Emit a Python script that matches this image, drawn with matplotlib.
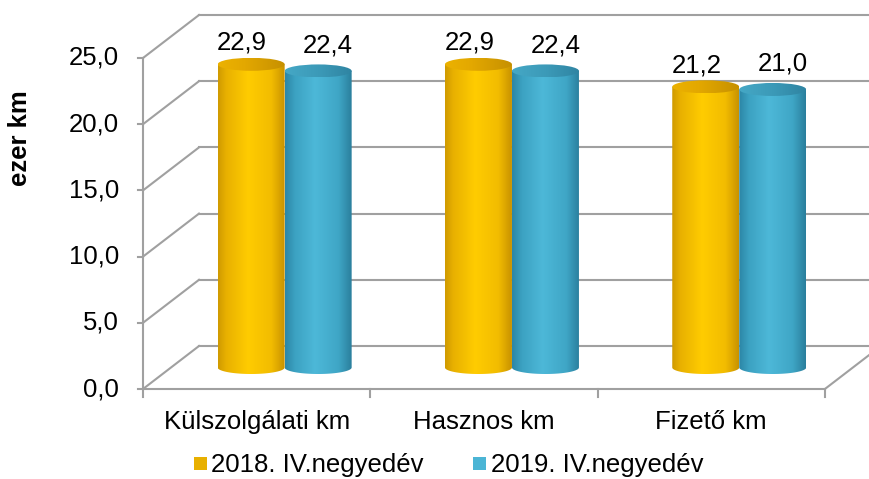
import numpy as np
import matplotlib
matplotlib.use("Agg")
import matplotlib.pyplot as plt
from matplotlib.patches import Polygon, Ellipse, Rectangle
from matplotlib.colors import to_rgb

# ---- data ----
categories = ["Külszolgálati km", "Hasznos km", "Fizető km"]
series_names = ["2018. IV.negyedév", "2019. IV.negyedév"]
values_2018 = [22.9, 22.9, 21.2]
values_2019 = [22.4, 22.4, 21.0]
value_labels_2018 = ["22,9", "22,9", "21,2"]
value_labels_2019 = ["22,4", "22,4", "21,0"]
y_ticks = [0, 5, 10, 15, 20, 25]
y_tick_labels = ["0,0", "5,0", "10,0", "15,0", "20,0", "25,0"]
y_label = "ezer km"

# ---- geometry / style ----
W, H = 869, 479
SX = 227.3      # px per category
SY = 13.24      # px per value unit
X0PX, Y0PX = 143, 389
DX = 56 / SX    # depth offset (category units)
DY = 43 / SY    # depth offset (value units)
CYL_W = 67 / SX
ELL_B = 6.5 / SY
FONT = "Liberation Sans"
FS = 18.5
GRID = "#A0A0A0"

fig = plt.figure(figsize=(W / 100, H / 100), dpi=100)
ax = fig.add_axes([0, 0, 1, 1])
ax.set_xlim(-0.5 - X0PX / SX, -0.5 + (W - X0PX) / SX)
ax.set_ylim(-(H - Y0PX) / SY, Y0PX / SY)
ax.axis("off")

lw = 1.5
# back wall gridlines and left wall diagonals
for v, lab in zip(y_ticks, y_tick_labels):
    ax.plot([-0.5 + DX, 2.5 + DX], [v + DY, v + DY], color=GRID, lw=lw, zorder=1)
    ax.plot([-0.5, -0.5 + DX], [v, v + DY], color=GRID, lw=lw, zorder=1)
    ax.plot([-0.5 - 5 / SX, -0.5], [v, v], color=GRID, lw=lw, zorder=1)
    ax.text(-0.5 - 24 / SX, v, lab, ha="right", va="center",
            fontsize=FS, family=FONT, color="#000000")
# front axis
ax.plot([-0.5, -0.5], [-8 / SY, 25], color=GRID, lw=lw, zorder=1)
# floor front line and ticks
ax.plot([-0.5, 2.5], [0, 0], color=GRID, lw=lw, zorder=1)
for b in [0.5, 1.5, 2.5]:
    ax.plot([b, b], [0, -8 / SY], color=GRID, lw=lw, zorder=1)
ax.plot([2.5, 2.5 + DX], [0, DY], color=GRID, lw=lw, zorder=1)


def grad(stops, n=256):
    pos = np.linspace(0, 1, n)
    ps = [s[0] for s in stops]
    cols = np.array([to_rgb(s[1]) for s in stops])
    arr = np.stack([np.interp(pos, ps, cols[:, k]) for k in range(3)], axis=-1)
    return arr[np.newaxis, :, :]


yellow_body = grad([(0, "#CF9A00"), (0.12, "#E8B000"), (0.45, "#FFCC00"), (0.8, "#F2BC00"), (1, "#C89200")])
yellow_top = grad([(0, "#ECB200"), (0.4, "#E3A800"), (1, "#C69000")])
blue_body = grad([(0, "#2C86A6"), (0.15, "#3CA2C2"), (0.45, "#4DB8D8"), (0.8, "#3FA6C6"), (1, "#2A7E9C")])
blue_top = grad([(0, "#45A8C6"), (0.5, "#3C9AB8"), (1, "#2F84A2")])

z = [5]


def cylinder(cx, val, body, top):
    y0 = 0.5 * DY
    y1 = val + 0.5 * DY
    a = CYL_W / 2
    t = np.linspace(np.pi, 2 * np.pi, 60)
    bottom = np.column_stack([cx + a * np.cos(t), y0 + ELL_B * np.sin(t)])
    verts = np.vstack([[cx - a, y1], bottom, [cx + a, y1]])
    poly = Polygon(verts, closed=True, facecolor="none", edgecolor="none")
    ax.add_patch(poly)
    im = ax.imshow(body, extent=[cx - a, cx + a, y0 - ELL_B, y1], aspect="auto",
                   interpolation="bilinear", zorder=z[0])
    im.set_clip_path(poly)
    ell = Ellipse((cx, y1), 2 * a, 2 * ELL_B, facecolor="none", edgecolor="none")
    ax.add_patch(ell)
    im2 = ax.imshow(top, extent=[cx - a, cx + a, y1 - ELL_B, y1 + ELL_B], aspect="auto",
                    interpolation="bilinear", zorder=z[0] + 1)
    im2.set_clip_path(ell)
    z[0] += 2
    return y1 + ELL_B


for i in range(len(categories)):
    base = i + 0.5 * DX
    cy = base - CYL_W / 2
    cb = base + CYL_W / 2
    ty = cylinder(cy, values_2018[i], yellow_body, yellow_top)
    ax.text(cy - 9 / SX, ty + 3 / SY, value_labels_2018[i], ha="center", va="bottom",
            fontsize=FS, family=FONT, zorder=50)
    tb = cylinder(cb, values_2019[i], blue_body, blue_top)
    ax.text(cb + 10 / SX, tb + 7 / SY, value_labels_2019[i], ha="center", va="bottom",
            fontsize=FS, family=FONT, zorder=50)
    ax.text(i, -33 / SY, categories[i], ha="center", va="center", fontsize=FS, family=FONT)

# y label
ax.text(-0.5 - 123 / SX, (Y0PX - 138) / SY, y_label, rotation=90, ha="center", va="center",
        fontsize=FS, family=FONT, fontweight="bold")

# legend (manual)
LEG_Y = 465
sq = 13
fig.patches.append(Rectangle((194 / W, (H - LEG_Y - sq / 2 + 2) / H), sq / W, sq / H,
                             transform=fig.transFigure, facecolor="#E8B000", edgecolor="none"))
fig.patches.append(Rectangle((473 / W, (H - LEG_Y - sq / 2 + 2) / H), sq / W, sq / H,
                             transform=fig.transFigure, facecolor="#4BB5D5", edgecolor="none"))
fig.text(211 / W, (H - LEG_Y) / H, series_names[0], ha="left", va="center", fontsize=FS, family=FONT)
fig.text(491 / W, (H - LEG_Y) / H, series_names[1], ha="left", va="center", fontsize=FS, family=FONT)

fig.savefig("out.png", dpi=100)
